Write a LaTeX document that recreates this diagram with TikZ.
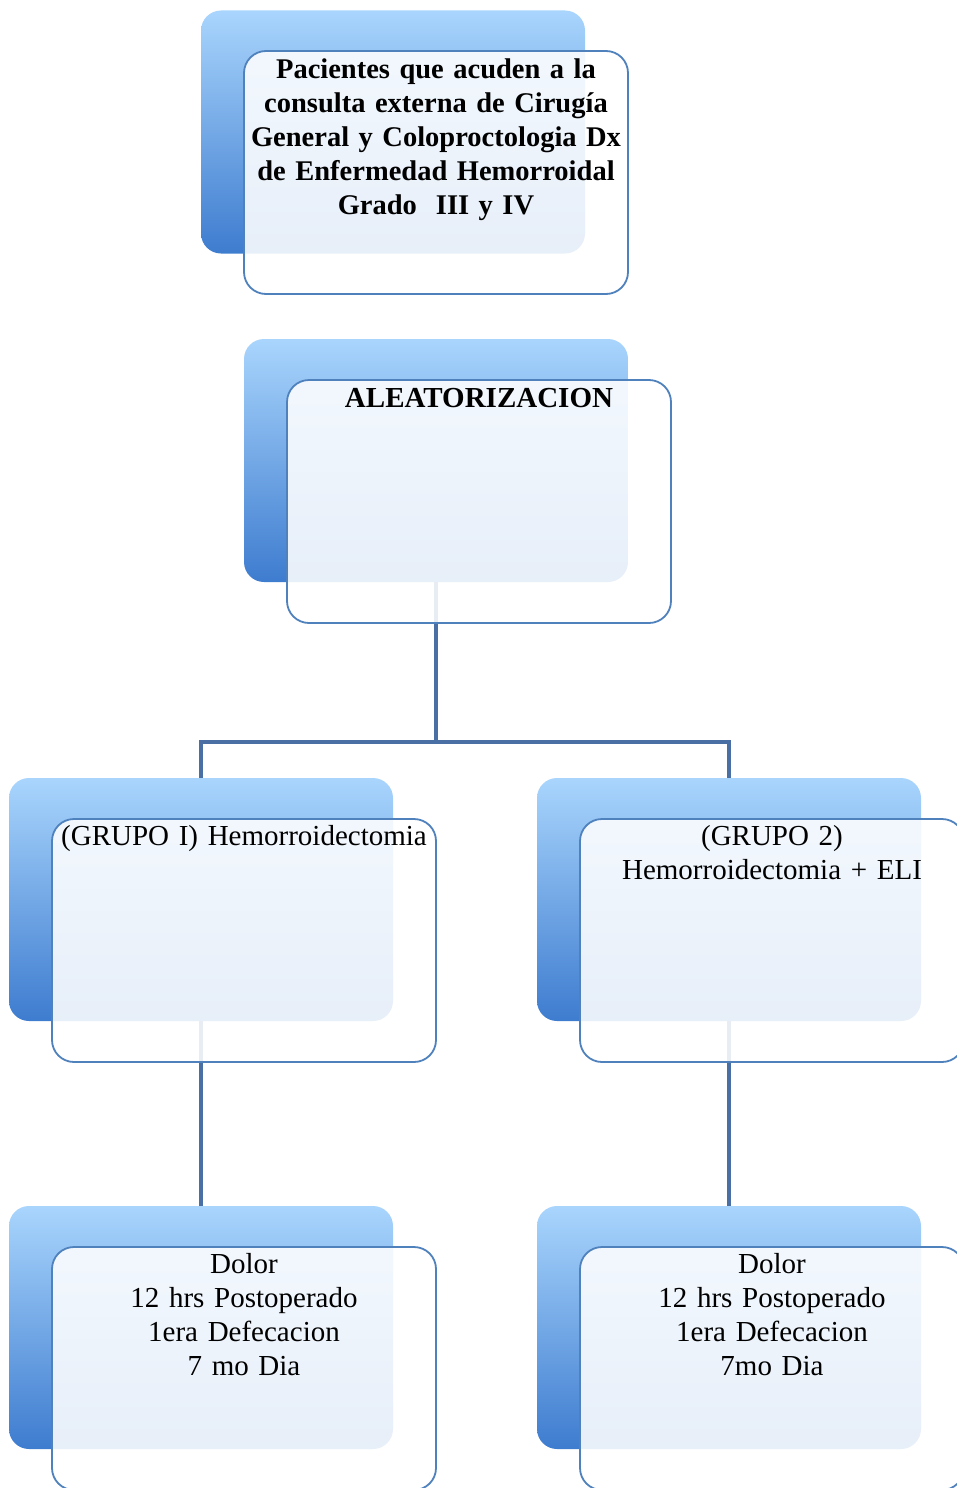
\documentclass[tikz,border=0pt]{standalone}
\usepackage{fontspec}
\setmainfont{Liberation Serif}
\definecolor{bluetop}{RGB}{169,213,253}
\definecolor{bluebot}{RGB}{62,124,207}
\definecolor{edgec}{RGB}{79,129,189}
\definecolor{connc}{RGB}{74,111,165}
\begin{document}
\begin{tikzpicture}[x=1pt,y=-1pt,
  back/.style={rectangle, rounded corners=20pt, minimum width=384pt, minimum height=243pt,
    top color=bluetop, bottom color=bluebot, draw=none, inner sep=0pt},
  front/.style={rectangle, rounded corners=22pt, minimum width=384pt, minimum height=243pt,
    draw=edgec, line width=1.8pt, fill=white, fill opacity=0.88, inner sep=0pt},
  txt/.style={anchor=base, text width=460pt, align=center, inner sep=0pt,
    font=\fontsize{29}{34}\selectfont},
  connector/.style={draw=connc, line width=4.5pt}]
\useasboundingbox (0,0) rectangle (957,1488);
\clip (0,0) rectangle (957,1488);

% back boxes
\node[back] (b1) at (393,132) {};
\node[back] (b2) at (436,460.5) {};
\node[back] (b3) at (201,899.5) {};
\node[back] (b4) at (729,899.5) {};
\node[back] (b5) at (201,1327.5) {};
\node[back] (b6) at (729,1327.5) {};

% connectors
\coordinate (j) at (436,742);
\draw[connector] (b2.south) -- (j) -| (b3.north);
\draw[connector] (j) -| (b4.north);
\draw[connector] (b3.south) -- (b5.north);
\draw[connector] (b4.south) -- (b6.north);

% front boxes
\node[front] (f1) at (436,172.5) {};
\node[front] (f2) at (479,501.5) {};
\node[front] (f3) at (244,940.5) {};
\node[front] (f4) at (772,940.5) {};
\node[front] (f5) at (244,1368.5) {};
\node[front] (f6) at (772,1368.5) {};

% texts
\node[txt, font=\fontsize{28.5}{34}\selectfont\bfseries] (t1) at (436,78)
  {Pacientes que acuden a la\\consulta externa de Cirugía\\General y Coloproctologia Dx\\de Enfermedad Hemorroidal\\Grado\ \ III y IV};
\node[txt, font=\fontsize{29}{34}\selectfont\bfseries] (t2) at (479,407) {ALEATORIZACION};
\node[txt] (t3) at (244,845) {(GRUPO I) Hemorroidectomia};
\node[txt] (t4) at (772,845) {(GRUPO 2)\\Hemorroidectomia + ELI};
\node[txt] (t5) at (244,1273) {Dolor\\12 hrs Postoperado\\1era Defecacion\\7 mo Dia};
\node[txt] (t6) at (772,1273) {Dolor\\12 hrs Postoperado\\1era Defecacion\\7mo Dia};
\end{tikzpicture}
\end{document}
